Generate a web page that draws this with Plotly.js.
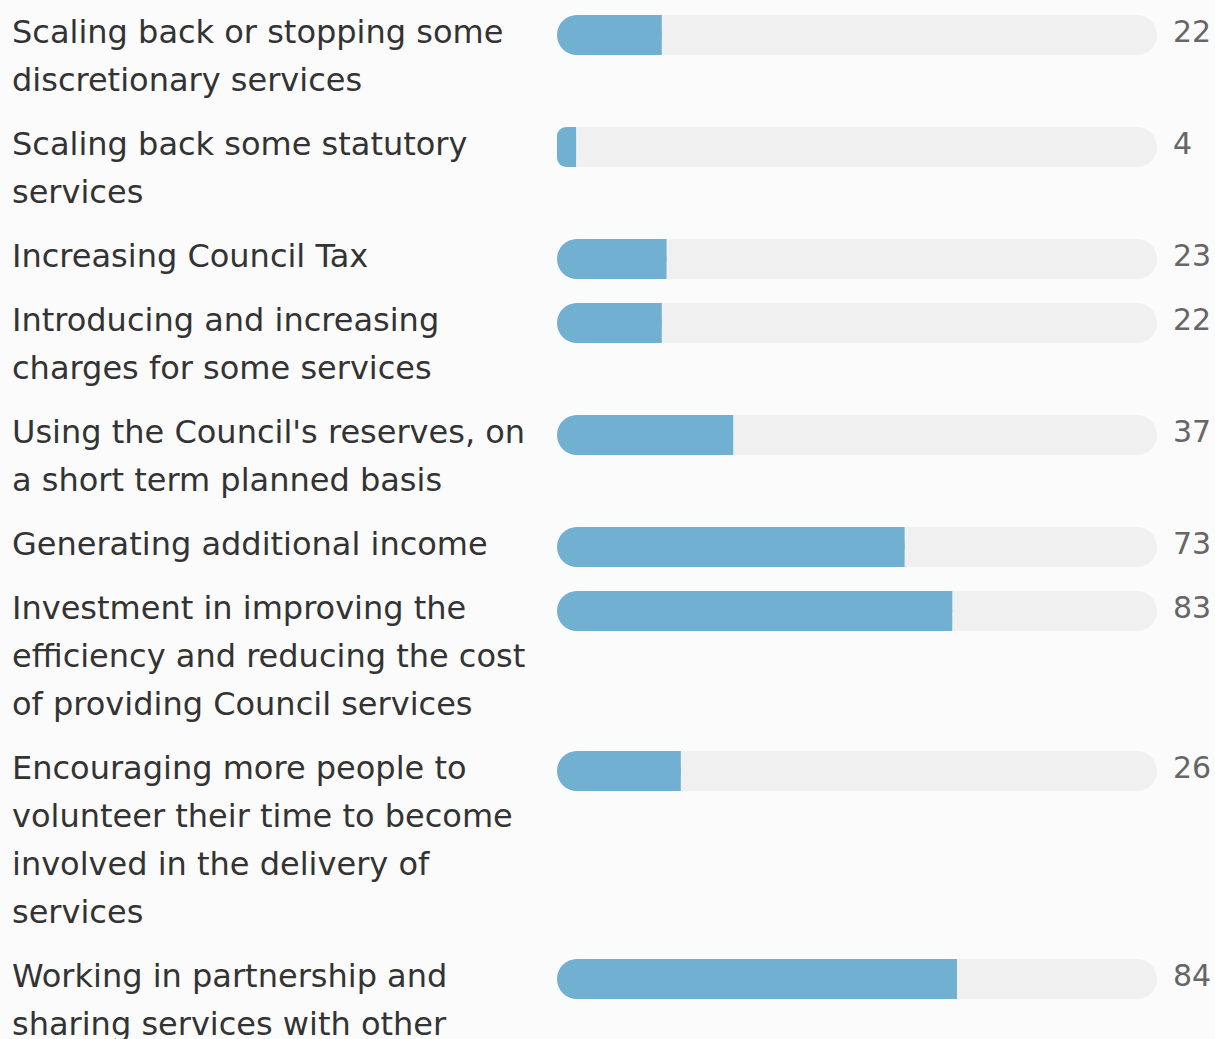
<!DOCTYPE html>
<html><head><meta charset="utf-8">
<script src="https://cdn.plot.ly/plotly-3.0.1.min.js"></script>
<style>html,body{margin:0;padding:0;background:#fbfbfb;overflow:hidden}#chart{width:1215px;height:1039px}</style>
</head><body><div id="chart"></div>
<script>
// ---- data ----
const categories = [
  "Scaling back or stopping some\ndiscretionary services",
  "Scaling back some statutory\nservices",
  "Increasing Council Tax",
  "Introducing and increasing\ncharges for some services",
  "Using the Council's reserves, on\na short term planned basis",
  "Generating additional income",
  "Investment in improving the\nefficiency and reducing the cost\nof providing Council services",
  "Encouraging more people to\nvolunteer their time to become\ninvolved in the delivery of\nservices",
  "Working in partnership and\nsharing services with other\norganisations"
];
const values = [22, 4, 23, 22, 37, 73, 83, 26, 84];
const valueLabels = ["22", "4", "23", "22", "37", "73", "83", "26", "84"];
const scaleMax = 126;

// ---- layout constants ----
const W = 1215, H = 1039;
const LINE = 48, ROW_GAP = 16, FIRST_TOP = 15, BAR_H = 40;
const TRACK_X0 = 557, TRACK_X1 = 1157;
const FILL = "#72b0d1", TRACK = "#f0f0f0", BG = "#fbfbfb";

const lines = categories.map(c => c.split("\n"));
const rowTops = [];
let t = FIRST_TOP;
lines.forEach(l => { rowTops.push(t); t += LINE * l.length + ROW_GAP; });
const centers = rowTops.map(r => r + BAR_H / 2);

const common = {type: "bar", orientation: "h", y: centers, width: centers.map(() => BAR_H),
  hoverinfo: "skip", showlegend: false};

const traces = [
  // grey track, rounded at both ends
  Object.assign({}, common, {x: values.map(() => scaleMax), base: values.map(() => 0),
    marker: {color: TRACK, cornerradius: BAR_H / 2, line: {width: 0}}}),
  // value bar, rounded
  Object.assign({}, common, {x: values, base: values.map(() => 0),
    marker: {color: FILL, cornerradius: BAR_H / 2, line: {width: 0}}}),
  // square right half of value bar
  Object.assign({}, common, {x: values.map(v => v / 2), base: values.map(v => v / 2),
    marker: {color: FILL, cornerradius: 0, line: {width: 0}}})
];

const annotations = [];
lines.forEach((ls, i) => {
  ls.forEach((txt, j) => {
    annotations.push({xref: "paper", yref: "y", x: 0, xshift: 10, xanchor: "left",
      y: rowTops[i] + 17 + LINE * j, yanchor: "middle", text: txt, showarrow: false,
      font: {family: "DejaVu Sans", size: 32, color: "#333333"}});
  });
  annotations.push({xref: "x", yref: "y", x: scaleMax, xshift: 14, xanchor: "left",
    y: rowTops[i] + 16, yanchor: "middle", text: valueLabels[i], showarrow: false,
    font: {family: "DejaVu Sans", size: 30, color: "#666666"}});
});

const layout = {
  width: W, height: H, margin: {l: 0, r: 0, t: 0, b: 0, pad: 0},
  paper_bgcolor: BG, plot_bgcolor: BG, barmode: "overlay",
  xaxis: {domain: [TRACK_X0 / W, TRACK_X1 / W], range: [0, scaleMax], visible: false, fixedrange: true},
  yaxis: {domain: [0, 1], range: [H, 0], visible: false, fixedrange: true},
  annotations: annotations
};

Plotly.newPlot("chart", traces, layout, {staticPlot: true, displayModeBar: false});
</script>
</body></html>
